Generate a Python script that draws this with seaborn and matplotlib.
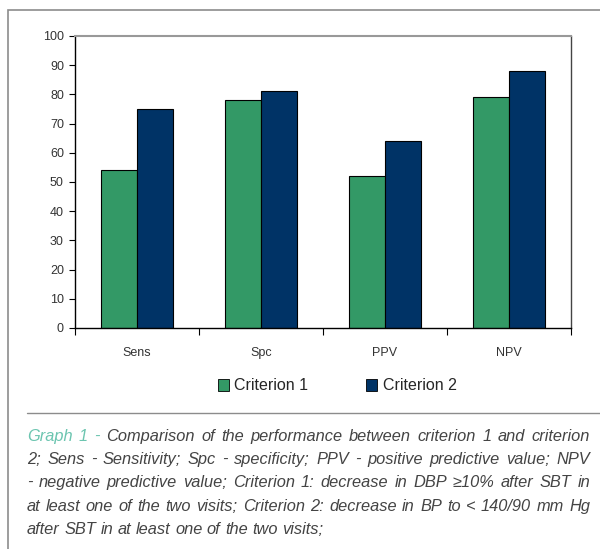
import seaborn as sns
import pandas as pd
import matplotlib.pyplot as plt
from matplotlib.patches import Rectangle
from matplotlib.lines import Line2D

sns.set_theme(style="white")
plt.rcParams['font.family'] = ['Liberation Sans', 'DejaVu Sans']

categories = ["Sens", "Spc", "PPV", "NPV"]
criterion_1 = [54, 78, 52, 79]
criterion_2 = [75, 81, 64, 88]
series_names = ["Criterion 1", "Criterion 2"]
yticks = [0, 10, 20, 30, 40, 50, 60, 70, 80, 90, 100]

df = pd.DataFrame({
    "metric": categories * 2,
    "value": criterion_1 + criterion_2,
    "series": [series_names[0]] * 4 + [series_names[1]] * 4,
})

W, H = 600, 549
fig = plt.figure(figsize=(6, 5.49), dpi=100)
fig.patch.set_facecolor("white")

# outer frame of the figure panel
fig.add_artist(Rectangle((8 / W, -0.1), 1.2, 1 - 10 / H + 0.1, transform=fig.transFigure,
                         fill=False, edgecolor="#8c8c8c", linewidth=1.2))

ax = fig.add_axes([75 / W, 1 - 328 / H, 496 / W, 292 / H])
palette = {"Criterion 1": "#339966", "Criterion 2": "#003366"}
sns.barplot(data=df, x="metric", y="value", hue="series", palette=palette,
            width=0.58, edgecolor="black", linewidth=0.8, saturation=1,
            ax=ax, legend=False)

ax.set_ylim(0, 100)
ax.set_xlim(-0.5, 3.5)
ax.set_yticks(yticks)
ax.set_xlabel("")
ax.set_ylabel("")
ax.tick_params(axis="y", length=4, width=0.8, color="black", labelsize=9,
               labelcolor="#333333", pad=4, left=True)
ax.tick_params(axis="x", which="major", length=0, labelsize=9,
               labelcolor="#333333", pad=14)
ax.set_xticks([-0.5, 0.5, 1.5, 2.5, 3.5], minor=True)
ax.tick_params(axis="x", which="minor", length=5, width=0.8, color="black", bottom=True)
for side in ["left", "bottom"]:
    ax.spines[side].set_color("black")
    ax.spines[side].set_linewidth(1)
ax.spines["top"].set_color("#999999")
ax.spines["top"].set_linewidth(1.5)
ax.spines["right"].set_color("#444444")
ax.spines["right"].set_linewidth(1)
ax.grid(False)

handles = [Rectangle((0, 0), 1, 1, facecolor=palette[s], edgecolor="black", linewidth=0.6)
           for s in series_names]
fig.legend(handles, series_names, loc="center", bbox_to_anchor=(337 / W, 1 - 386 / H),
           ncol=2, frameon=False, fontsize=11.5, handlelength=0.7, handleheight=0.7,
           handletextpad=0.35, columnspacing=3.6, borderaxespad=0)

# separator above caption
fig.add_artist(Line2D([27 / W, 1.0], [1 - 413 / H, 1 - 413 / H], transform=fig.transFigure,
                      color="#8c8c8c", linewidth=1))

caption_lines = [
    [("Graph", "#6cc5b0"), ("1", "#6cc5b0"), ("-", "#6cc5b0"), ("Comparison of the performance between criterion 1 and criterion", "#444444")],
    [("2; Sens - Sensitivity; Spc - specificity; PPV - positive predictive value; NPV", "#444444")],
    [("- negative predictive value; Criterion 1: decrease in DBP ≥10% after SBT in", "#444444")],
    [("at least one of the two visits;  Criterion 2: decrease in BP to < 140/90 mm Hg", "#444444")],
    [("after SBT in at least one of the two visits;", "#444444")],
]
baselines = [441, 464, 487, 511, 534]
x0, x1 = 27, 590
font = dict(family=["Liberation Sans", "DejaVu Sans"], style="italic", fontsize=11.8)

renderer = fig.canvas.get_renderer()
probe_a = fig.text(0, 0, "a b", **font)
probe_b = fig.text(0, 0, "ab", **font)
space_w = probe_a.get_window_extent(renderer).width - probe_b.get_window_extent(renderer).width
probe_a.remove()
probe_b.remove()

for i, (parts, yb) in enumerate(zip(caption_lines, baselines)):
    words = [(w, c) for text, c in parts for w in text.split()]
    y = 1 - yb / H
    arts = [fig.text(0, y, w, color=c, va="baseline", ha="left", **font) for w, c in words]
    widths = [a.get_window_extent(renderer).width for a in arts]
    if i < len(caption_lines) - 1:
        gap = (x1 - x0 - sum(widths)) / (len(words) - 1)
    else:
        gap = space_w
    x = x0
    for a, w in zip(arts, widths):
        a.set_x(x / W)
        x += w + gap

fig.savefig("out.png", dpi=100)
